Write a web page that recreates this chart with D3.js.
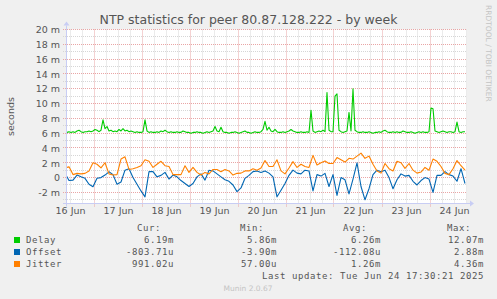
<!DOCTYPE html>
<html><head><meta charset="utf-8">
<script src="https://cdn.jsdelivr.net/npm/d3@7"></script>
<style>body{margin:0;background:#f0f0f0;overflow:hidden} svg{display:block}</style>
</head><body><svg id="c" width="497" height="299"></svg>
<script>
// ---------- data ----------
const title = "NTP statistics for peer 80.87.128.222 - by week";
const seriesNames = ["Delay", "Offset", "Jitter"];
const seriesColors = ["#00cc00", "#0066b3", "#ff8000"];
const dataStartUTC = [2025, 5, 16, 9, 30];   // first sample: 16 Jun 09:30
const delayStepHours = 1;
const offsetJitterStepHours = 2;
// values in milliseconds
const delay = [
6.1,6.1,6.2,6.1,6.2,6.1,6.3,6.4,6.2,6.1,6.2,6.2,6.3,6.2,6.3,6.5,6.4,6.2,6.4,7.8,
6.6,6.9,6.3,6.4,6.2,6.3,6.2,6.5,6.3,6.6,6.3,6.4,6.2,6.3,6.2,6.1,6.2,6.1,6.1,6.2,
7.8,6.3,6.1,6.2,6.1,6.1,6.2,6.1,6.3,6.2,6.4,6.2,6.1,6.2,6.1,6.1,6.2,6.1,6.1,6.3,
6.2,6.1,6.1,6.0,6.1,6.1,6.2,6.1,6.1,6.0,6.1,6.2,6.1,6.2,6.3,6.9,6.3,6.2,6.8,6.2,
6.1,6.1,6.0,6.1,6.1,6.2,6.1,6.0,6.1,6.2,6.3,6.1,6.1,6.0,6.1,6.2,6.1,6.1,6.2,6.5,
7.6,6.4,6.8,6.3,6.2,6.5,6.2,6.1,6.1,6.2,6.1,6.2,6.3,6.5,6.3,6.2,6.1,6.1,6.2,6.1,
6.1,6.2,6.1,9.1,6.3,6.1,6.2,6.3,6.2,6.4,6.2,11.5,6.4,6.2,6.2,11.0,11.3,6.4,6.2,6.1,
6.2,6.3,8.8,6.3,12.0,6.4,6.2,6.1,6.1,6.2,6.1,6.1,6.2,6.1,6.0,6.1,6.1,6.2,6.1,6.3,
6.4,6.2,6.1,6.1,6.2,6.1,6.2,6.1,6.1,6.3,6.2,6.1,6.1,6.2,6.1,6.0,6.1,6.2,6.1,6.2,
6.1,6.1,6.2,9.4,9.3,6.3,6.2,6.1,6.2,6.3,6.2,6.1,6.2,6.2,6.1,6.2,7.5,6.2,6.1,6.2,
6.19];
const offset = [
0.6,-0.4,-0.34,0.34,0.1,-0.1,-0.9,-1.24,-0.1,0.0,0.34,0.78,0.4,-0.9,-0.6,1.0,1.2,0.0,-0.9,-1.8,
-2.6,0.8,0.8,0.1,0.3,0.7,-0.2,0.34,0.1,-0.4,-0.8,-1.2,-0.8,0.1,0.5,-0.34,1.0,0.9,0.5,0.1,
-0.3,-0.5,-1.0,-1.9,-1.4,-0.1,0.3,0.8,0.9,0.7,0.9,0.6,0.1,-2.6,-1.7,-0.8,0.3,1.0,0.6,0.5,
1.0,0.9,-1.8,0.4,0.2,0.57,-1.2,0.4,-2.4,0.0,-0.3,-2.2,-0.2,2.0,-1.2,-3.0,-1.5,0.4,1.0,0.8,
1.0,0.0,-1.5,-0.3,0.5,0.2,0.3,-0.5,-1.0,-0.4,0.0,-0.2,-2.0,0.3,0.3,0.8,0.4,0.2,-0.5,1.2,
-0.8];
const jitter = [
1.3,1.45,0.4,0.57,0.5,0.57,0.9,2.0,1.8,1.3,2.0,0.5,0.34,0.4,2.5,2.8,1.1,1.2,1.37,1.6,
2.4,2.2,1.37,1.8,2.2,1.6,1.5,0.4,0.4,0.4,1.6,0.7,1.37,0.7,0.34,0.7,0.5,1.1,1.1,0.8,
1.1,0.9,0.34,0.57,0.6,0.9,0.9,1.2,1.0,1.3,2.3,1.5,1.5,2.4,0.9,0.5,1.3,2.15,1.37,1.8,
1.5,1.37,3.0,1.7,2.0,2.25,1.9,1.9,2.7,2.4,2.1,2.6,2.5,2.9,3.3,2.6,2.9,1.8,0.9,0.6,
1.9,1.2,0.9,2.2,2.0,1.24,1.9,1.0,0.6,0.75,1.37,1.0,2.5,2.2,1.5,0.57,0.4,1.2,2.3,1.6,
1.0];
const yTickValues = [-2, 0, 2, 4, 6, 8, 10, 12, 14, 16, 18, 20];
const dayLabels = ["16 Jun","17 Jun","18 Jun","19 Jun","20 Jun","21 Jun","22 Jun","23 Jun","24 Jun"];
const legendHeaders = ["Cur:", "Min:", "Avg:", "Max:"];
const legendCur = ["6.19m", "-803.71u", "991.02u"];
const legendMin = ["5.86m", "-3.90m", "57.00u"];
const legendAvg = ["6.26m", "-112.08u", "1.26m"];
const legendMax = ["12.07m", "2.88m", "4.36m"];
const lastUpdate = "Last update: Tue Jun 24 17:30:21 2025";
const yAxisTitle = "seconds";
const watermark = "RRDTOOL / TOBI OETIKER";
const footer = "Munin 2.0.67";

// ---------- drawing ----------
const svg = d3.select("#c");
const L = 67, R = 467, T = 29.5, B = 203.5;
const HOUR = 3600e3;
const t0 = Date.UTC(...dataStartUTC);
const x = d3.scaleUtc()
  .domain([new Date(Date.UTC(2025,5,16,10,30)), new Date(Date.UTC(2025,5,24,18,30))])
  .range([L, R]);
const y = d3.scaleLinear().domain([-3.5, 20]).range([B, T]);

svg.append("rect").attr("width", 497).attr("height", 299).attr("fill", "#f0f0f0");
svg.append("rect").attr("x", L).attr("y", T).attr("width", R - L).attr("height", B - T).attr("fill", "#ffffff");

const crisp = v => Math.round(v) + 0.5;
const grid = svg.append("g");
// horizontal grid
d3.range(-3, 21).forEach(v => {
  const major = v % 2 === 0;
  grid.append("line")
    .attr("x1", L - 4).attr("x2", R)
    .attr("y1", crisp(y(v) - 0.5)).attr("y2", crisp(y(v) - 0.5))
    .attr("stroke", major ? "#e9a5a5" : "#d6d6d6")
    .attr("stroke-dasharray", "1,1");
});
// vertical grid
const gStart = Date.UTC(2025,5,16,12,0);
for (let t = gStart; t <= Date.UTC(2025,5,24,18,0); t += 6 * HOUR) {
  const d = new Date(t);
  const major = d.getUTCHours() === 0;
  grid.append("line")
    .attr("x1", crisp(x(d) - 0.5)).attr("x2", crisp(x(d) - 0.5))
    .attr("y1", T).attr("y2", B + (major ? 3 : 0))
    .attr("stroke", major ? "#e9a5a5" : "#d6d6d6")
    .attr("stroke-dasharray", "1,1");
}

// lines
svg.append("clipPath").attr("id", "pc").append("rect")
  .attr("x", L).attr("y", T - 1).attr("width", R - L).attr("height", B - T + 1);
const lineGen = stepH => d3.line()
  .x((d, i) => x(new Date(t0 + i * stepH * HOUR)))
  .y(d => y(d));
const plotG = svg.append("g").attr("clip-path", "url(#pc)");
[[delay, delayStepHours], [offset, offsetJitterStepHours], [jitter, offsetJitterStepHours]].forEach((s, k) => {
  plotG.append("path").datum(s[0])
    .attr("d", lineGen(s[1]))
    .attr("fill", "none")
    .attr("stroke", seriesColors[k])
    .attr("stroke-width", 1.1)
    .attr("stroke-linejoin", "round");
});

// axes lines + arrows
const axisColor = "#c8cdf4";
svg.append("line").attr("x1", L - 4).attr("x2", R + 3).attr("y1", B).attr("y2", B)
  .attr("stroke", axisColor).attr("stroke-width", 1);
svg.append("path").attr("d", `M${R+3},${B-3} L${R+7},${B} L${R+3},${B+3} Z`).attr("fill", axisColor);
svg.append("line").attr("x1", L - 0.5).attr("x2", L - 0.5).attr("y1", B + 3).attr("y2", T - 4)
  .attr("stroke", axisColor).attr("stroke-width", 1);
svg.append("path").attr("d", `M${L-3.5},${T-4} L${L-0.5},${T-8} L${L+2.5},${T-4} Z`).attr("fill", axisColor);

// y axis labels
const yAxis = d3.axisLeft(y).tickValues(yTickValues).tickSize(0).tickPadding(0)
  .tickFormat(v => v === 0 ? "0" : v + " m");
const yg = svg.append("g").attr("transform", `translate(${L - 7},0)`).call(yAxis);
yg.select(".domain").remove();
yg.selectAll("text").attr("font-family", "DejaVu Sans").attr("font-size", 9.5)
  .attr("fill", "#555").attr("dy", "0.34em");

// x axis labels (centred at noon)
const noon = dayLabels.map((s, i) => new Date(Date.UTC(2025,5,16 + i,12,0)));
const xAxis = d3.axisBottom(x).tickValues(noon).tickSize(0).tickPadding(0)
  .tickFormat((d, i) => dayLabels[i]);
const xg = svg.append("g").attr("transform", `translate(0,${B + 4})`).call(xAxis);
xg.select(".domain").remove();
xg.selectAll("text").attr("font-family", "DejaVu Sans").attr("font-size", 9.5)
  .attr("fill", "#555").attr("dy", "0.72em");

// title
svg.append("text").attr("x", 248.5).attr("y", 24).attr("text-anchor", "middle")
  .attr("font-family", "DejaVu Sans").attr("font-size", 12.5).attr("fill", "#555").text(title);
// y axis title
svg.append("text").attr("transform", "translate(13.5,116.5) rotate(-90)").attr("text-anchor", "middle")
  .attr("font-family", "DejaVu Sans").attr("font-size", 9.5).attr("fill", "#555").text(yAxisTitle);
// watermark
svg.append("text").attr("transform", "translate(485.5,5) rotate(90)")
  .attr("font-family", "DejaVu Sans").attr("font-size", 7.5).attr("fill", "#c4c4c4").text(watermark);

// legend
const mono = t => t.attr("font-family", "DejaVu Sans Mono").attr("font-size", 9).attr("letter-spacing", 0.58).attr("fill", "#555");
const headX = [137, 240, 343, 447];
legendHeaders.forEach((h, i) => mono(svg.append("text").attr("x", headX[i]).attr("y", 231).text(h)));
const rowY = [242.5, 254.5, 266.5];
const cols = [[legendCur, 174], [legendMin, 277], [legendAvg, 381], [legendMax, 484]];
seriesNames.forEach((n, k) => {
  svg.append("rect").attr("x", 14).attr("y", rowY[k] - 5.5).attr("width", 6).attr("height", 6).attr("fill", seriesColors[k]);
  mono(svg.append("text").attr("x", 26).attr("y", rowY[k]).text(n));
  cols.forEach(([arr, cx]) => mono(svg.append("text").attr("x", cx).attr("y", rowY[k]).attr("text-anchor", "end").text(arr[k])));
});
mono(svg.append("text").attr("x", 484).attr("y", 278.5).attr("text-anchor", "end").text(lastUpdate));
svg.append("text").attr("x", 248).attr("y", 290.5).attr("text-anchor", "middle")
  .attr("font-family", "DejaVu Sans").attr("font-size", 7.5).attr("fill", "#c4c4c4").text(footer);
</script>
</body></html>
